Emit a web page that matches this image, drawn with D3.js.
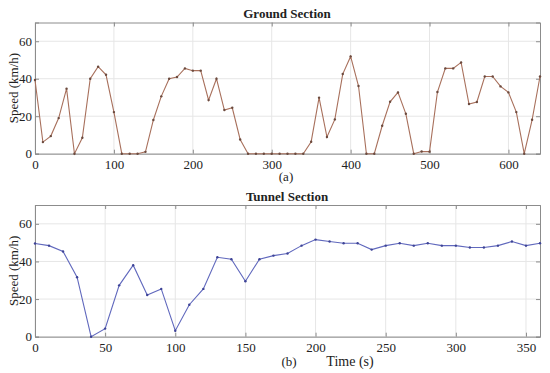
<!DOCTYPE html>
<html>
<head>
<meta charset="utf-8">
<script src="https://d3js.org/d3.v7.min.js"></script>
<style>
  body { margin: 0; background: #fff; }
  svg text { font-family: "Liberation Serif", "Times New Roman", serif; fill: #222; }
</style>
</head>
<body>
<div id="chart"></div>
<script>
// ground section, one sample every 10 s
const groundTime = d3.range(0, 650, 10)
const groundSpeed = [
  39.3, 6.2, 9.4, 19, 34.7, 0, 8.5, 40, 46.4, 42.1,
  22.2, 0, 0, 0, 1, 18, 30.6, 40, 40.9, 45.5,
  44.3, 44.3, 28.6, 40, 23.3, 24.5, 7.6, 0, 0, 0,
  0, 0, 0, 0, 0, 6.4, 29.9, 8.9, 18.3, 42.5,
  51.9, 36.1, 0, 0, 14.9, 27.7, 32.7, 21.3, 0, 1.2,
  1.1, 32.9, 45.5, 45.5, 48.7, 26.5, 27.6, 41.2, 41.2, 35.9,
  32.7, 22.2, 0, 18.1, 41.2
]
const groundTicksX = [0, 100, 200, 300, 400, 500, 600]

// tunnel section
const tunnelTime = d3.range(0, 370, 10)
const tunnelSpeed = [
  49.5, 48.4, 45.3, 31.6, 0, 4.3, 27.3, 38, 22.2, 25.4,
  3.2, 17, 25.4, 42.2, 41.2, 29.5, 41.2, 43.1, 44.2, 48.4,
  51.6, 50.6, 49.7, 49.7, 46.3, 48.4, 49.7, 48.4, 49.7, 48.4,
  48.4, 47.4, 47.4, 48.4, 50.6, 48.4, 49.7
]
const tunnelTicksX = [0, 50, 100, 150, 200, 250, 300, 350]

const speedTicks = [0, 20, 40, 60]

const W = 550, H = 373
const LEFT = 35, RIGHT = 540
const GRID = "#e6e6e6"
const FRAME = "#8c8c8c"

const svg = d3.select("#chart").append("svg")
    .attr("width", W)
    .attr("height", H)

function drawPanel(opts) {
    let x = d3.scaleLinear().domain(opts.xDomain).range([LEFT, RIGHT])
    let y = d3.scaleLinear().domain([0, 70]).range([opts.bottom, opts.top])
    let g = svg.append("g")

    // grid
    g.selectAll(".gx").data(opts.xTicks).enter().append("line")
        .attr("x1", d => x(d)).attr("x2", d => x(d))
        .attr("y1", opts.top).attr("y2", opts.bottom)
        .attr("stroke", GRID).attr("stroke-width", 1)
    g.selectAll(".gy").data(speedTicks).enter().append("line")
        .attr("x1", LEFT).attr("x2", RIGHT)
        .attr("y1", d => y(d)).attr("y2", d => y(d))
        .attr("stroke", GRID).attr("stroke-width", 1)

    // axes with inward ticks, also mirrored on top and right
    let axB = g.append("g").attr("transform", "translate(0," + opts.bottom + ")")
        .call(d3.axisBottom(x).tickValues(opts.xTicks).tickSize(-4).tickPadding(6))
    let axT = g.append("g").attr("transform", "translate(0," + opts.top + ")")
        .call(d3.axisTop(x).tickValues(opts.xTicks).tickSize(-4).tickFormat(""))
    let axL = g.append("g").attr("transform", "translate(" + LEFT + ",0)")
        .call(d3.axisLeft(y).tickValues(speedTicks).tickSize(-4).tickPadding(3))
    let axR = g.append("g").attr("transform", "translate(" + RIGHT + ",0)")
        .call(d3.axisRight(y).tickValues(speedTicks).tickSize(-4).tickFormat(""))
    ;[axB, axT, axL, axR].forEach(a => {
        a.selectAll("path").attr("stroke", FRAME)
        a.selectAll("line").attr("stroke", FRAME)
        a.selectAll("text")
            .style("font-family", "'Liberation Serif', serif")
            .style("font-size", "13px")
            .attr("fill", "#222")
    })

    let pts = opts.time.map((t, i) => [t, opts.speed[i]])
    g.append("path")
        .datum(pts)
        .attr("fill", "none")
        .attr("stroke", opts.color)
        .attr("stroke-width", 1.1)
        .attr("d", d3.line().x(d => x(d[0])).y(d => y(d[1])))
    g.selectAll(".pt").data(pts).enter().append("circle")
        .attr("cx", d => x(d[0])).attr("cy", d => y(d[1]))
        .attr("r", 1.2)
        .attr("fill", opts.dot)

    // title
    svg.append("text")
        .attr("x", 287).attr("y", opts.top - 4.5)
        .attr("text-anchor", "middle")
        .style("font-size", "13px")
        .style("font-weight", "bold")
        .text(opts.title)

    // y label
    svg.append("text")
        .attr("transform", "translate(18," + ((opts.top + opts.bottom) / 2) + ") rotate(-90)")
        .attr("text-anchor", "middle")
        .style("font-size", "13px")
        .text("Speed (km/h)")
}

drawPanel({
    title: "Ground Section",
    time: groundTime, speed: groundSpeed,
    xDomain: [0, 640], xTicks: groundTicksX,
    top: 22.5, bottom: 153.7,
    color: "#a8705c", dot: "#6b4a3e"
})

drawPanel({
    title: "Tunnel Section",
    time: tunnelTime, speed: tunnelSpeed,
    xDomain: [0, 360], xTicks: tunnelTicksX,
    top: 205, bottom: 336.7,
    color: "#6068bd", dot: "#3d4396"
})

svg.append("text")
    .attr("x", 286).attr("y", 181)
    .attr("text-anchor", "middle")
    .style("font-size", "13px")
    .text("(a)")

svg.append("text")
    .attr("x", 289).attr("y", 366)
    .attr("text-anchor", "middle")
    .style("font-size", "13px")
    .text("(b)")

svg.append("text")
    .attr("x", 350).attr("y", 366)
    .attr("text-anchor", "middle")
    .style("font-size", "14px")
    .text("Time (s)")
</script>
</body>
</html>
